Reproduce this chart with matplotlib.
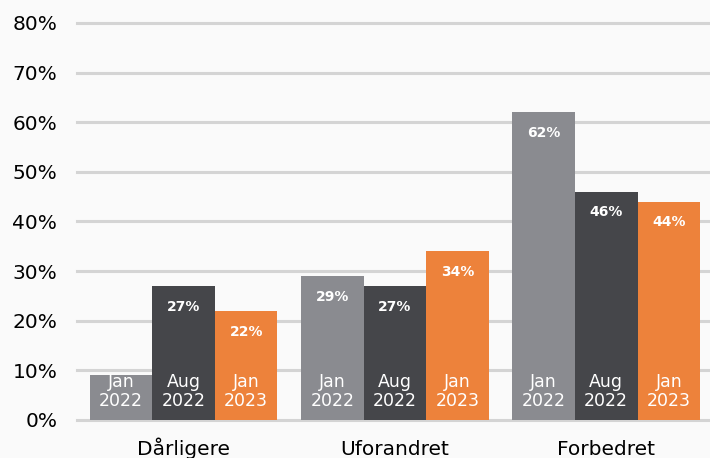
import numpy as np
import matplotlib.pyplot as plt

# ---- data ----
categories = ["Dårligere", "Uforandret", "Forbedret"]
periods = ["Jan\n2022", "Aug\n2022", "Jan\n2023"]
jan_2022 = [9, 29, 62]
aug_2022 = [27, 27, 46]
jan_2023 = [22, 34, 44]
y_ticks = [0, 10, 20, 30, 40, 50, 60, 70, 80]

# ---- style ----
BG = "#fafafa"
GRID = "#d4d4d4"
COLORS = ["#8a8b90", "#45464a", "#ed823b"]
BAR_W = 0.296

fig = plt.figure(figsize=(7.1, 4.58), dpi=100, facecolor=BG)
ax = fig.add_axes([0.108, 0.083, 0.892, 0.867])
ax.set_facecolor(BG)

x = np.arange(len(categories))
series = [jan_2022, aug_2022, jan_2023]

for yt in y_ticks:
    ax.axhline(yt, color=GRID, lw=2.2, zorder=0, clip_on=False)

for i, (vals, color, per) in enumerate(zip(series, COLORS, periods)):
    xs = x + (i - 1) * BAR_W
    ax.bar(xs, vals, width=BAR_W, color=color, zorder=2)
    for bx, v in zip(xs, vals):
        ax.text(bx, 2.0, per, ha="center", va="bottom", color="white",
                fontsize=12.5, linespacing=1.1, zorder=3)
        if v >= 15:
            ax.annotate(f"{v}%", (bx, v), xytext=(0, -15), textcoords="offset points",
                        ha="center", va="center", color="white", fontsize=10,
                        fontweight="bold", zorder=3)

ax.set_xlim(-0.506, 2.491)
ax.set_ylim(0, 80)
ax.set_yticks(y_ticks)
ax.set_yticklabels([f"{t}%" for t in y_ticks], fontsize=14.5)
ax.set_xticks(x)
ax.set_xticklabels(categories, fontsize=14.5, va="baseline")
ax.tick_params(axis="both", length=0)
ax.tick_params(axis="y", pad=14)
ax.tick_params(axis="x", pad=25)
for s in ax.spines.values():
    s.set_visible(False)

fig.savefig("out.png", dpi=100, facecolor=BG)
